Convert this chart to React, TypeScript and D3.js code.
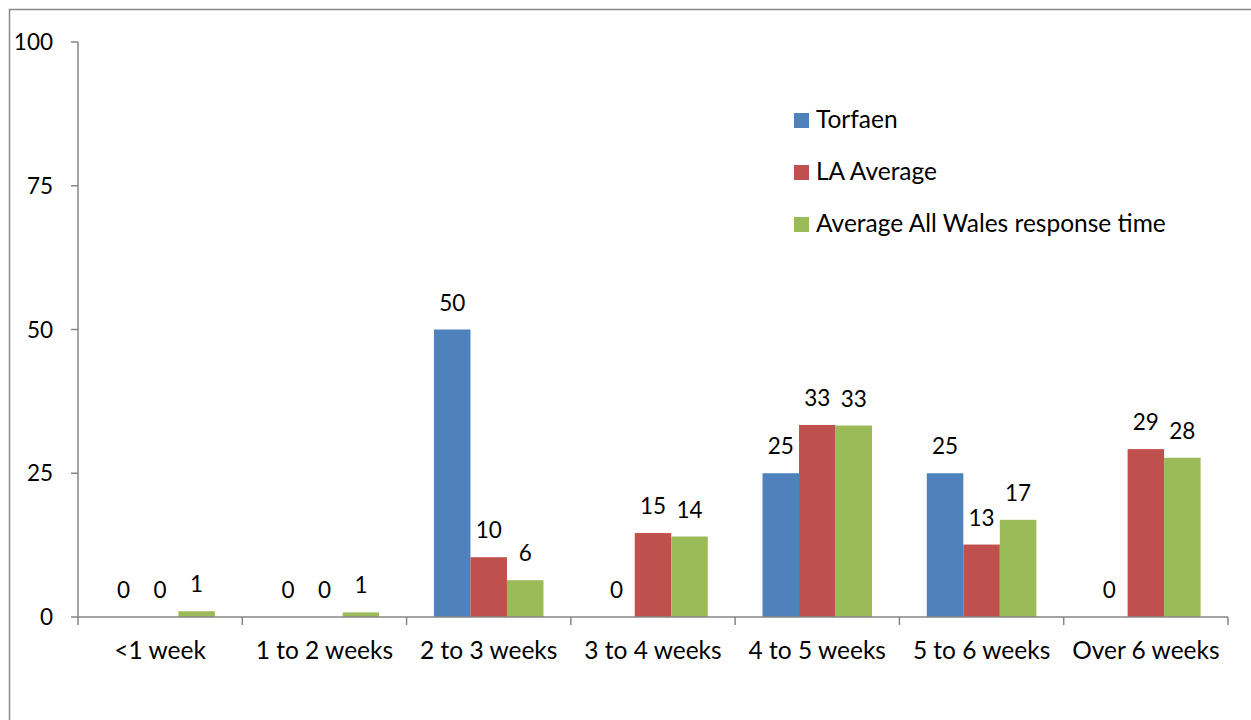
import React from "react";
import * as d3 from "d3";

const categories = ["<1 week", "1 to 2 weeks", "2 to 3 weeks", "3 to 4 weeks", "4 to 5 weeks", "5 to 6 weeks", "Over 6 weeks"];
const seriesNames = ["Torfaen", "LA Average", "Average All Wales response time"];
const torfaen = [0, 0, 50, 0, 25, 25, 0];
const laAverage = [0, 0, 10.4, 14.6, 33.4, 12.6, 29.2];
const allWales = [1.0, 0.8, 6.4, 14.0, 33.3, 16.9, 27.7];
const yTicks = [0, 25, 50, 75, 100];
const colors = ["#4F81BD", "#C0504D", "#9BBB59"];

const W = 1251;
const H = 720;
const left = 78;
const right = 1228;
const top = 42;
const bottom = 617;
const FONT = "Lato, 'Open Sans', sans-serif";
const FS_NUM = 22.5;
const FS_TXT = 24.5;

export default function App() {
  const series = [torfaen, laAverage, allWales];
  const y = d3.scaleLinear().domain([0, 100]).range([bottom, top]);
  const x0 = d3.scaleBand<string>().domain(categories).range([left, right]).padding(0);
  const x1 = d3
    .scaleBand<string>()
    .domain(seriesNames)
    .range([0, x0.bandwidth()])
    .paddingInner(0)
    .paddingOuter(0.75);

  return (
    <svg
      width={W}
      height={H}
      style={{ position: "absolute", left: 0, top: 0, background: "#fff" }}
      fontFamily={FONT}
    >
      <rect x={0} y={0} width={W} height={H} fill="#fff" />
      <rect x={9.5} y={9.5} width={1400} height={900} fill="none" stroke="#898989" strokeWidth={1.5} />

      {/* bars */}
      {categories.map((c, i) => (
        <g key={c} transform={`translate(${x0(c)},0)`}>
          {seriesNames.map((s, j) => {
            const v = series[j][i];
            const bx = x1(s)!;
            const bw = x1.bandwidth();
            return (
              <g key={s}>
                {v > 0 && (
                  <rect x={bx} y={y(v)} width={bw} height={bottom - y(v)} fill={colors[j]} />
                )}
                <text
                  x={bx + bw / 2}
                  y={y(v) - 19}
                  textAnchor="middle"
                  fontSize={FS_NUM}
                  fill="#000"
                >
                  {d3.format(".0f")(v)}
                </text>
              </g>
            );
          })}
        </g>
      ))}

      {/* y axis */}
      <line x1={left} x2={left} y1={top} y2={bottom} stroke="#868686" strokeWidth={1.5} />
      {yTicks.map((t) => (
        <g key={t}>
          <line x1={left - 7} x2={left} y1={y(t)} y2={y(t)} stroke="#868686" strokeWidth={1.5} />
          <text x={53} y={y(t) + 8} textAnchor="end" fontSize={FS_NUM} fill="#000">
            {t}
          </text>
        </g>
      ))}

      {/* x axis */}
      <line x1={left} x2={right} y1={bottom} y2={bottom} stroke="#868686" strokeWidth={1.5} />
      {[...categories.map((c) => x0(c)!), right].map((px, i) => (
        <line key={i} x1={px} x2={px} y1={bottom} y2={bottom + 8} stroke="#868686" strokeWidth={1.5} />
      ))}
      {categories.map((c) => (
        <text
          key={c}
          x={x0(c)! + x0.bandwidth() / 2}
          y={659}
          textAnchor="middle"
          fontSize={FS_TXT}
          fill="#000"
        >
          {c}
        </text>
      ))}

      {/* legend */}
      {seriesNames.map((s, j) => (
        <g key={s} transform={`translate(794,${113 + j * 52})`}>
          <rect x={0} y={0} width={15} height={15} fill={colors[j]} />
          <text x={22} y={15} fontSize={FS_TXT} fill="#000">
            {s}
          </text>
        </g>
      ))}
    </svg>
  );
}
